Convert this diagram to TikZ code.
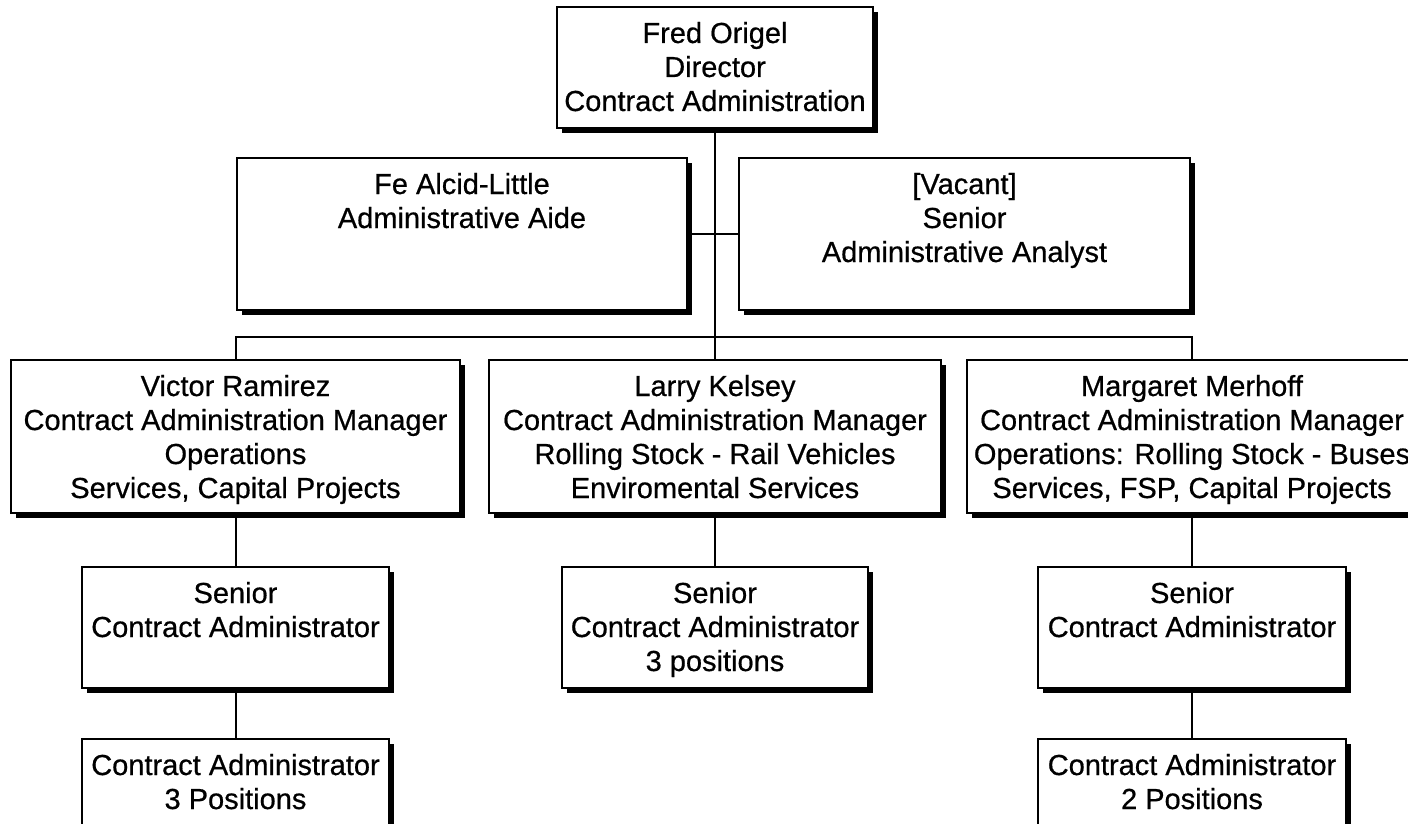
\documentclass[tikz,border=0pt]{standalone}
\usepackage{fontspec}
\setmainfont{Liberation Sans}
\newfontfamily\orgfont{Liberation Sans}[FakeBold=0.6]
\usetikzlibrary{shadows}
\tikzset{
  orgbox/.style={draw=black, line width=1.4pt, fill=white, inner sep=0pt, outer sep=0pt,
    font=\orgfont\fontsize{29}{34}\selectfont,
    drop shadow={shadow xshift=5pt, shadow yshift=-5pt, fill=black, opacity=1}},
  link/.style={draw=black, line width=2pt},
}
\newcommand{\boxtext}[3]{\begin{minipage}[t][#2][t]{#1}\centering\rule{0pt}{36pt}#3\end{minipage}}
\begin{document}
\begin{tikzpicture}[x=1pt,y=-1pt]
\useasboundingbox (0,0) rectangle (1408,824);
\clip (0,0) rectangle (1408,824);
% level 1
\node[orgbox] (dir) at (715,67.5) {\boxtext{316pt}{121pt}{Fred Origel\\Director\\Contract Administration}};
% staff
\node[orgbox] (aide) at (462,234) {\boxtext{450pt}{152pt}{Fe Alcid-Little\\Administrative Aide}};
\node[orgbox] (vac) at (964.5,234) {\boxtext{451pt}{152pt}{[Vacant]\\Senior\\Administrative Analyst}};
% managers
\node[orgbox] (victor) at (235.5,436.5) {\boxtext{449pt}{153pt}{Victor Ramirez\\Contract Administration Manager\\Operations\\Services, Capital Projects}};
\node[orgbox] (larry) at (715,436.5) {\boxtext{452pt}{153pt}{Larry Kelsey\\Contract Administration Manager\\Rolling Stock - Rail Vehicles\\Enviromental Services}};
\node[orgbox] (marg) at (1192,436.5) {\boxtext{450pt}{153pt}{Margaret Merhoff\\Contract Administration Manager\\Operations: Rolling Stock - Buses\\Services, FSP, Capital Projects}};
% seniors
\node[orgbox] (s1) at (235.5,627.5) {\boxtext{307pt}{121pt}{Senior\\Contract Administrator}};
\node[orgbox] (s2) at (715,627.5) {\boxtext{306pt}{121pt}{Senior\\Contract Administrator\\3 positions}};
\node[orgbox] (s3) at (1192,627.5) {\boxtext{308pt}{121pt}{Senior\\Contract Administrator}};
% administrators
\node[orgbox] (c1) at (235.5,789) {\boxtext{307pt}{100pt}{Contract Administrator\\3 Positions}};
\node[orgbox] (c3) at (1192,789) {\boxtext{308pt}{100pt}{Contract Administrator\\2 Positions}};
% connectors
\coordinate (bar) at (715,337);
\draw[link] (dir.south) -- (larry.north);
\draw[link] (aide.east) -- (vac.west);
\draw[link] (victor.north) |- (bar) -| (marg.north);
\draw[link] (victor.south) -- (s1.north);
\draw[link] (larry.south) -- (s2.north);
\draw[link] (marg.south) -- (s3.north);
\draw[link] (s1.south) -- (c1.north);
\draw[link] (s3.south) -- (c3.north);
\end{tikzpicture}
\end{document}
